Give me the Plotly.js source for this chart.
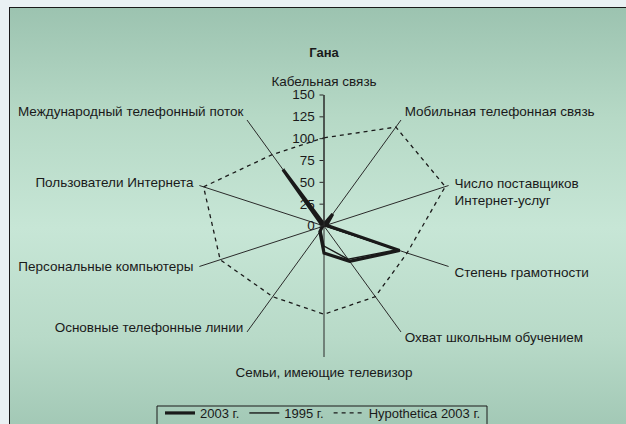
<!DOCTYPE html>
<html>
<head>
<meta charset="utf-8">
<script src="https://cdn.plot.ly/plotly-3.0.1.min.js"></script>
<style>
html,body{margin:0;padding:0;width:626px;height:424px;overflow:hidden;background:#e9f1f3;}
#frame{position:absolute;left:9px;top:7px;width:640px;height:440px;border:1px solid #1a1a1a;
background:linear-gradient(to bottom,#9cc3b0 0%,#b6d9c6 25%,#c7e6d6 50%,#b8dac8 75%,#9dc4b1 100%);}
#chart{position:absolute;left:0;top:0;width:626px;height:424px;}
</style>
</head>
<body>
<div id="frame"></div>
<div id="chart"></div>
<script>
var categories = [
  "Кабельная связь",
  "Мобильная телефонная связь",
  " <br> <br>Число поставщиков<br>Интернет-услуг",
  "Степень грамотности",
  "Охват школьным обучением<br> <br> <br> <br> <br> ",
  "Семьи, имеющие телевизор",
  "Основные телефонные линии<br> <br> <br> <br> <br> <br> <br> <br> <br> <br> <br> ",
  "Персональные компьютеры<br> ",
  "Пользователи Интернета",
  "Международный телефонный поток"
];
var values2003 = [2, 17, 3, 91, 50, 31, 8, 2, 2, 80];
var values1995 = [0, 1, 1, 88, 47, 23, 6, 1, 1, 75];
var valuesHypo = [101, 140, 146, 100, 100, 101, 100, 125, 145, 101];
var radialTicks = [0, 25, 50, 75, 100, 125, 150];

function closed(a){ return a.concat([a[0]]); }
var theta = closed(categories);

var traces = [
  {type:'scatterpolar', mode:'lines', name:'2003 г.', r:closed(values2003), theta:theta,
   line:{color:'#1a1a1a', width:3.2}},
  {type:'scatterpolar', mode:'lines', name:'1995 г.', r:closed(values1995), theta:theta,
   line:{color:'#1a1a1a', width:1.4}},
  {type:'scatterpolar', mode:'lines', name:'Hypothetica 2003 г.', r:closed(valuesHypo), theta:theta,
   line:{color:'#1a1a1a', width:1.3, dash:'4px,4px'}}
];

var W=626, H=424, cx=324, cy=226, R=131;
var layout = {
  width:W, height:H,
  margin:{l:0,r:0,t:0,b:0,autoexpand:false},
  paper_bgcolor:'rgba(0,0,0,0)',
  font:{family:'"Liberation Sans", Arial, sans-serif', size:13, color:'#1a1a1a'},
  title:{text:'<b>Гана</b>', x:cx/W, xanchor:'center', y:1-52/H, yanchor:'middle',
         font:{size:13, color:'#1a1a1a', family:'"Liberation Sans", Arial, sans-serif'}},
  showlegend:true,
  legend:{orientation:'h', x:323/W, xanchor:'center', y:1-398/H, yanchor:'top',
          borderwidth:0, bgcolor:'rgba(0,0,0,0)',
          font:{size:13, color:'#1a1a1a'}, itemwidth:30, tracegroupgap:0},
  shapes:[{type:'rect', xref:'paper', yref:'paper', x0:157/W, x1:487/W, y0:-0.05, y1:1-406/H,
           line:{color:'#1a1a1a', width:1}, fillcolor:'rgba(0,0,0,0)', layer:'below'}],
  polar:{
    domain:{x:[(cx-R)/W,(cx+R)/W], y:[1-(cy+R)/H,1-(cy-R)/H]},
    bgcolor:'rgba(0,0,0,0)',
    angularaxis:{direction:'clockwise', rotation:90, showline:false, ticks:'outside', ticklen:3,
                 tickcolor:'rgba(0,0,0,0)',
                 gridcolor:'#2a2a2a', gridwidth:1, tickfont:{size:13.5, color:'#1a1a1a'}},
    radialaxis:{range:[0,150], tickvals:radialTicks, ticktext:radialTicks.map(String),
                angle:90, side:'counterclockwise', showgrid:false, showline:true,
                linecolor:'#2a2a2a', linewidth:1, ticks:'outside', ticklen:4, tickcolor:'#2a2a2a',
                tickfont:{size:13.5, color:'#1a1a1a'}, tickangle:90}
  }
};
Plotly.newPlot('chart', traces, layout, {displayModeBar:false, staticPlot:true});
</script>
</body>
</html>
